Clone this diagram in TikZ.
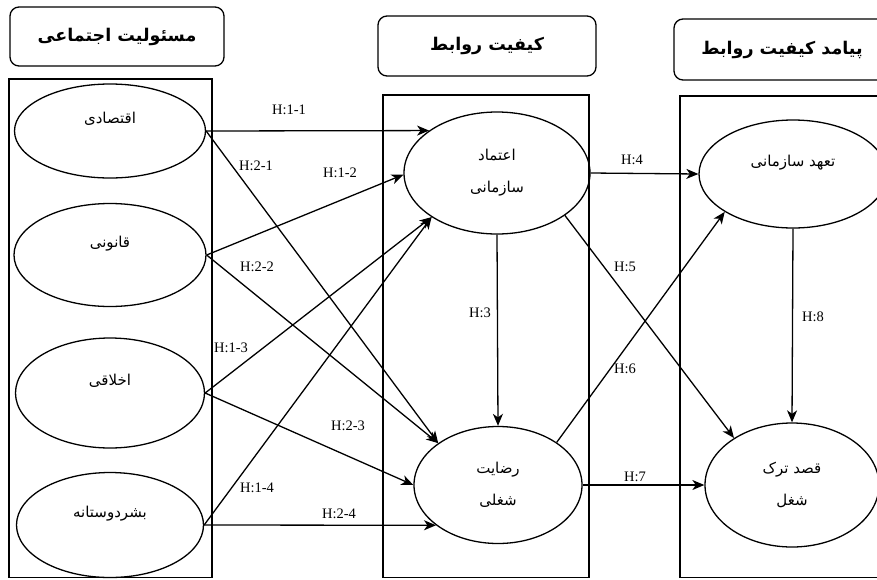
\documentclass[tikz,border=0pt]{standalone}
\usepackage{fontspec}
\setmainfont{Liberation Serif}
\newfontfamily\arabicfont[Script=Arabic]{DejaVu Sans}
\TeXXeTstate=1
\usetikzlibrary{arrows.meta,shapes.geometric}
\newcommand{\fa}[1]{{\arabicfont\beginR #1\endR}}

\begin{document}
\begin{tikzpicture}[x=1pt, y=-1pt, >={Stealth[length=12pt,width=10pt,inset=3.5pt]},
    ell/.style={ellipse, draw, line width=1.3pt, inner sep=0pt, align=center, font=\fontsize{15}{32}\selectfont},
    oneline/.style={text depth=26pt},
    titlebox/.style={draw, rounded corners=9pt, line width=1.3pt, inner sep=0pt, font=\fontsize{17.5}{20}\selectfont\bfseries},
    hyp/.style={font=\fontsize{14.5}{17}\selectfont},
    link/.style={->, line width=1.3pt}]
    \useasboundingbox (0,0) rectangle (877,579);
    \clip (0,0) rectangle (877,579);

    % Titles
    \node[titlebox, minimum width=214pt, minimum height=59pt] (tsoc) at (117,36.5) {\fa{مسئولیت اجتماعی}};
    \node[titlebox, minimum width=218pt, minimum height=60pt] (tqual) at (487,46) {\fa{کیفیت روابط}};
    \node[titlebox, minimum width=216pt, minimum height=61pt] (tout) at (782,49.5) {\fa{پیامد کیفیت روابط}};

    % Columns
    \draw[line width=1.3pt] (9,79) rectangle (212,577.5);
    \draw[line width=1.3pt] (383,95) rectangle (589,577.5);
    \draw[line width=1.3pt] (680,96) rectangle (890,577.5);

    % Social responsibility
    \node[ell, oneline, minimum width=191pt, minimum height=94pt] (eco) at (110,131) {\fa{اقتصادی}};
    \node[ell, oneline, minimum width=192pt, minimum height=103pt] (legal) at (110,255) {\fa{قانونی}};
    \node[ell, oneline, minimum width=189pt, minimum height=110pt] (ethic) at (110,393) {\fa{اخلاقی}};
    \node[ell, oneline, minimum width=187pt, minimum height=105pt] (phil) at (110,525) {\fa{بشردوستانه}};

    % Relationship quality
    \node[ell, minimum width=186pt, minimum height=122pt] (trust) at (497,173) {\fa{اعتماد}\\\fa{سازمانی}};
    \node[ell, minimum width=168pt, minimum height=117pt] (satis) at (498,485) {\fa{رضایت}\\\fa{شغلی}};

    % Outcomes
    \node[ell, oneline, minimum width=188pt, minimum height=108pt] (commit) at (793,174) {\fa{تعهد سازمانی}};
    \node[ell, minimum width=174pt, minimum height=124pt] (quit) at (792,485) {\fa{قصد ترک}\\\fa{شغل}};

    % Hypotheses
    \draw[link] (eco.east) -- (trust.148);
    \draw[link] (eco.east) -- (satis.145);
    \draw[link] (legal.east) -- (trust.181);
    \draw[link] (legal.east) -- (satis.145);
    \draw[link] (ethic.east) -- (trust.214);
    \draw[link] (ethic.east) -- (satis.west);
    \draw[link] (phil.east) -- (trust.214);
    \draw[link] (phil.east) -- (satis.213);
    \draw[link] (trust.south) -- (satis.north);
    \draw[link] (trust.east) -- (commit.west);
    \draw[link] (trust.328) -- (quit.141);
    \draw[link] (satis.36) -- (commit.209);
    \draw[link] (satis.east) -- (quit.west);
    \draw[link] (commit.south) -- (quit.north);

    \node[hyp] (h11) at (289,110) {H:1-1};
    \node[hyp] (h21) at (256,166) {H:2-1};
    \node[hyp] (h12) at (340,173) {H:1-2};
    \node[hyp] (h22) at (257,267) {H:2-2};
    \node[hyp] (h13) at (231,348) {H:1-3};
    \node[hyp] (h23) at (348,426) {H:2-3};
    \node[hyp] (h14) at (257,488) {H:1-4};
    \node[hyp] (h24) at (339,514) {H:2-4};
    \node[hyp] (h3) at (480,313) {H:3};
    \node[hyp] (h4) at (632,160) {H:4};
    \node[hyp] (h5) at (625,267) {H:5};
    \node[hyp] (h6) at (625,369) {H:6};
    \node[hyp] (h7) at (635,477) {H:7};
    \node[hyp] (h8) at (813,317) {H:8};
\end{tikzpicture}
\end{document}
